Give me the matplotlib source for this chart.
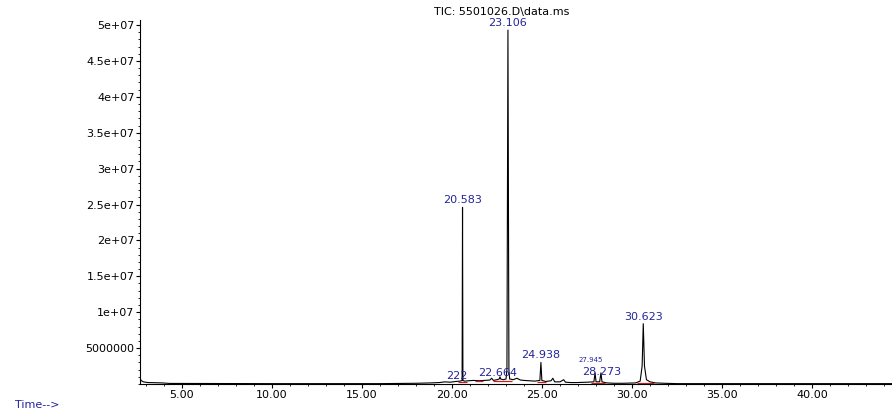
import numpy as np
import matplotlib.pyplot as plt
from matplotlib.ticker import MultipleLocator, FixedLocator, FixedFormatter

# Chromatogram trace (time in min, abundance in counts)
rt = [2.67, 2.72, 2.85, 3.1, 3.5, 3.9, 4.3, 10.0, 16.0, 18.0, 18.8, 19.3, 19.6, 19.9,
      20.2, 20.45, 20.56, 20.583, 20.605, 20.7, 20.9, 21.2, 21.5, 21.8, 22.1, 22.2,
      22.3, 22.5, 22.62, 22.664, 22.7, 22.85, 23.0, 23.05, 23.106, 23.16, 23.2, 23.4,
      23.6, 23.8, 24.0, 24.3, 24.6, 24.88, 24.938, 24.99, 25.2, 25.5, 25.6, 25.7, 26.0,
      26.2, 26.3, 26.6, 26.9, 27.5, 27.88, 27.945, 28.0, 28.2, 28.273, 28.33, 28.6,
      29.0, 29.5, 30.2, 30.45, 30.56, 30.623, 30.69, 30.8, 31.0, 31.3, 31.8, 32.5,
      33.5, 35.0, 40.0, 44.5]
abundance = [0.9e6, 0.5e6, 0.3e6, 0.2e6, 0.18e6, 0.15e6, 0.08e6, 0.05e6, 0.05e6, 0.1e6,
             0.15e6, 0.2e6, 0.3e6, 0.25e6, 0.35e6, 0.4e6, 0.5e6, 24.6e6, 0.5e6, 0.4e6,
             0.45e6, 0.5e6, 0.45e6, 0.5e6, 0.55e6, 0.8e6, 0.5e6, 0.6e6, 0.7e6, 1.0e6,
             0.7e6, 0.6e6, 0.7e6, 2.0e6, 49.3e6, 2.0e6, 0.7e6, 0.6e6, 0.8e6, 0.55e6,
             0.5e6, 0.45e6, 0.4e6, 0.5e6, 3.0e6, 0.5e6, 0.35e6, 0.45e6, 0.8e6, 0.3e6,
             0.3e6, 0.6e6, 0.25e6, 0.2e6, 0.2e6, 0.25e6, 0.3e6, 1.55e6, 0.3e6, 0.3e6,
             1.55e6, 0.3e6, 0.15e6, 0.1e6, 0.1e6, 0.15e6, 0.4e6, 2.5e6, 8.4e6, 2.5e6,
             0.6e6, 0.3e6, 0.15e6, 0.1e6, 0.05e6, 0.05e6, 0.05e6, 0.05e6, 0.05e6]

# Integration baselines (start, end, level)
base_start = [20.35, 21.3, 22.3, 24.7, 27.7, 30.3]
base_end = [20.85, 21.7, 23.35, 25.2, 28.5, 31.2]
base_level = [0.3e6, 0.4e6, 0.45e6, 0.3e6, 0.2e6, 0.1e6]

# Peak labels
peak_labels = ["222", "20.583", "22.664", "23.106", "24.938", "27.945", "28.273", "30.623"]
label_x = [20.28, 20.583, 22.55, 23.106, 24.938, 27.7, 28.3, 30.623]
label_y = [0.35e6, 24.9e6, 0.9e6, 49.6e6, 3.3e6, 2.9e6, 1.0e6, 8.7e6]
label_size = [8, 8, 8, 8, 8, 5, 8, 8]

ytick_vals = [5e6, 1e7, 1.5e7, 2e7, 2.5e7, 3e7, 3.5e7, 4e7, 4.5e7, 5e7]
ytick_labels = ["5000000", "1e+07", "1.5e+07", "2e+07", "2.5e+07", "3e+07",
                "3.5e+07", "4e+07", "4.5e+07", "5e+07"]
xtick_vals = [5, 10, 15, 20, 25, 30, 35, 40]

blue = "#24249a"

fig = plt.figure(figsize=(8.92, 4.12), dpi=100)
ax = fig.add_axes([140/892, 28/412, 752/892, 364/412])

ax.plot(rt, abundance, color="black", lw=0.8)
ax.hlines(base_level, base_start, base_end, color="#c02020", lw=0.9)

for txt, x, y, s in zip(peak_labels, label_x, label_y, label_size):
    ax.text(x, y, txt, color=blue, fontsize=s, ha="center", va="bottom",
            family="DejaVu Sans")

ax.set_xlim(2.667, 44.44)
ax.set_ylim(0, 5.07e7)

ax.xaxis.set_major_locator(FixedLocator(xtick_vals))
ax.xaxis.set_major_formatter(FixedFormatter(["%.2f" % v for v in xtick_vals]))
ax.xaxis.set_minor_locator(MultipleLocator(1))
ax.yaxis.set_major_locator(FixedLocator(ytick_vals))
ax.yaxis.set_major_formatter(FixedFormatter(ytick_labels))
ax.yaxis.set_minor_locator(MultipleLocator(1e6))

ax.tick_params(which="major", direction="out", length=3, width=0.8, labelsize=8, pad=1)
ax.tick_params(which="minor", direction="out", length=1.5, width=0.6)
for s in ["top", "right"]:
    ax.spines[s].set_visible(False)
for s in ["left", "bottom"]:
    ax.spines[s].set_linewidth(0.8)

fig.text(502/892, 1 - 12/412, "TIC: 5501026.D\\data.ms", fontsize=8, ha="center",
         va="center", color="black")
fig.text(15/892, 1 - 405/412, "Time-->", fontsize=8, ha="left", va="center", color=blue)

plt.savefig("out.png", dpi=100)
